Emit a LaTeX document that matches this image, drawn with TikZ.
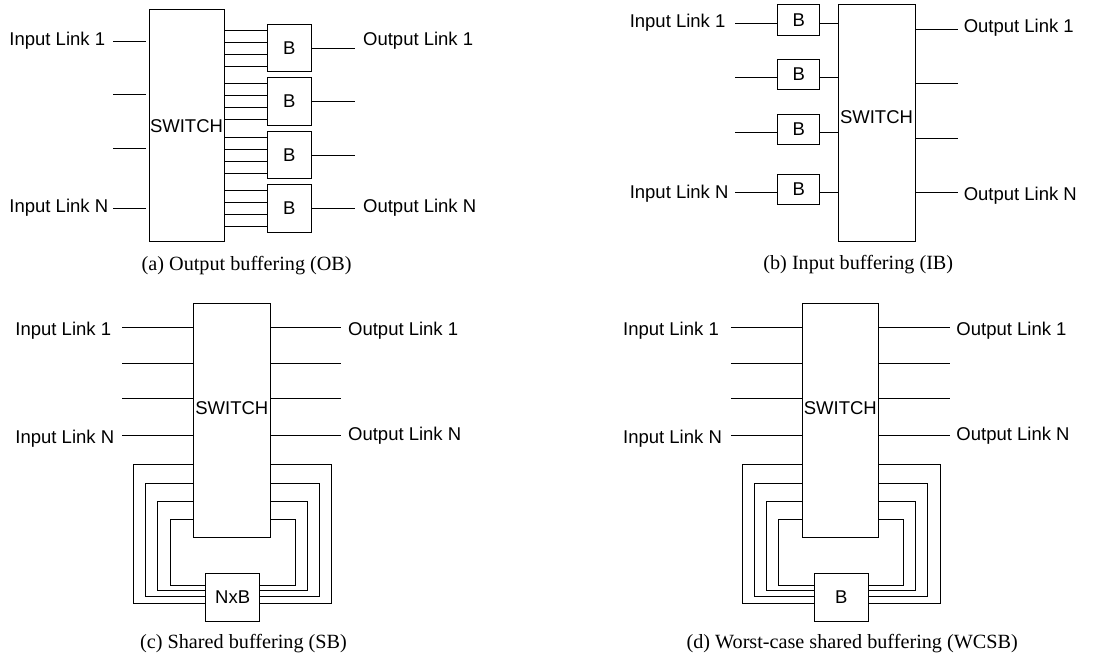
\documentclass[tikz,border=0pt]{standalone}
\usepackage{fontspec}
\setmainfont{Liberation Serif}
\newfontfamily\arialf{Liberation Sans}
\begin{document}
\begin{tikzpicture}[x=1pt,y=-1pt,
  line width=0.9pt,
  lbl/.style={font=\arialf\fontsize{18.5}{22}\selectfont, inner sep=0pt},
  captxt/.style={font=\fontsize{20.2}{24}\selectfont, inner sep=0pt, anchor=base},
  swbox/.style={draw, inner sep=0pt},
  bbox/.style={draw, inner sep=0pt, font=\arialf\fontsize{18.5}{22}\selectfont},
]
\useasboundingbox (0,0) rectangle (1118,657);

% ---------------- (a) Output buffering ----------------
\node[swbox, minimum width=75pt, minimum height=232pt] (swA) at (186.5,125) {};
\node[lbl] (swAt) at (186.5,126) {SWITCH};
\foreach \i/\c/\yi in {1/48/41.3,2/101.5/94.7,3/155/148,4/208.5/208}{
  \node[bbox, minimum width=43.3pt, minimum height=47.5pt] (bA\i) at (289.4,\c) {B};
  \foreach \d in {-18,-6,6,18}{
    \pgfmathsetmacro\yy{\c+\d}
    \draw (swA.east |- 0,\yy) -- (bA\i.west |- 0,\yy);
  }
  \coordinate (oA\i) at (355,\c);
  \draw (bA\i.east) -- (oA\i);
  \coordinate (iA\i) at (113,\yi);
  \draw[shorten >=3pt] (iA\i) -- (swA.west |- iA\i);
}
\node[lbl, anchor=base west] (tAi1) at (9,45.7) {Input Link 1};
\node[lbl, anchor=base west] (tAiN) at (9,212.7) {Input Link N};
\node[lbl, anchor=base west] (tAo1) at (362.7,45.7) {Output Link 1};
\node[lbl, anchor=base west] (tAoN) at (362.7,212.7) {Output Link N};
\node[captxt] (capA) at (246.7,270) {(a) Output buffering (OB)};

% ---------------- (b) Input buffering ----------------
\node[swbox, minimum width=77pt, minimum height=236.3pt] (swB) at (876.5,122.85) {};
\node[lbl] (swBt) at (876.5,116.7) {SWITCH};
\foreach \i/\c/\yl/\yo in {1/19.8/23/29,2/74.5/77.3/83.3,3/129.2/132/138,4/189.5/192.7/192.7}{
  \node[bbox, minimum width=42pt, minimum height=30.3pt] (bB\i) at (798.7,\c) {B};
  \coordinate (iB\i) at (735,\yl);
  \draw (iB\i) -- (bB\i.west |- iB\i);
  \draw (bB\i.east |- iB\i) -- (swB.west |- iB\i);
  \coordinate (oB\i) at (957.7,\yo);
  \draw (swB.east |- oB\i) -- (oB\i);
}
\node[lbl, anchor=base west] (tBi1) at (629.3,27.3) {Input Link 1};
\node[lbl, anchor=base west] (tBiN) at (629.3,198.3) {Input Link N};
\node[lbl, anchor=base west] (tBo1) at (963.3,32.3) {Output Link 1};
\node[lbl, anchor=base west] (tBoN) at (963.3,200) {Output Link N};
\node[captxt] (capB) at (858.3,269.5) {(b) Input buffering (IB)};

% ---------------- (c) and (d) Shared buffering ----------------
\foreach \p/\sx/\bt in {C/0/NxB,D/608.5/B}{
  \begin{scope}[xshift=\sx pt]
    \node[swbox, minimum width=76.3pt, minimum height=233.7pt] (sw\p) at (231.85,420.15) {};
    \node[lbl] (sw\p t) at (231.85,408.3) {SWITCH};
    \node[bbox, minimum width=54pt, minimum height=48pt] (nb\p) at (232.7,597) {\bt};
    \foreach \k/\y in {1/327.7,2/363,3/398.7,4/435.3}{
      \coordinate (i\p\k) at (122.3,\y);
      \coordinate (o\p\k) at (341,\y);
      \draw (i\p\k) -- (sw\p.west |- i\p\k);
      \draw (sw\p.east |- o\p\k) -- (o\p\k);
    }
    \foreach \k/\t/\l/\r/\b in {1/464.7/133.7/331.7/603.3,2/483/145.7/319.3/596.7,3/501/157.7/307.3/590.7,4/519/170/295.3/585}{
      \draw (sw\p.west |- 0,\t) -| (\l,\b) -- (nb\p.west |- 0,\b);
      \draw (nb\p.east |- 0,\b) -| (\r,\t) -- (sw\p.east |- 0,\t);
    }
  \end{scope}
}
\node[lbl, anchor=base west] (tCi1) at (15,335.7) {Input Link 1};
\node[lbl, anchor=base west] (tCiN) at (15,443.3) {Input Link N};
\node[lbl, anchor=base west] (tCo1) at (347.7,335.7) {Output Link 1};
\node[lbl, anchor=base west] (tCoN) at (347.7,440) {Output Link N};
\node[captxt] (capC) at (243.5,648) {(c) Shared buffering (SB)};

\node[lbl, anchor=base west] (tDi1) at (622.7,335.7) {Input Link 1};
\node[lbl, anchor=base west] (tDiN) at (622.7,443.3) {Input Link N};
\node[lbl, anchor=base west] (tDo1) at (956,335.7) {Output Link 1};
\node[lbl, anchor=base west] (tDoN) at (956,440) {Output Link N};
\node[captxt] (capD) at (852.2,648) {(d) Worst-case shared buffering (WCSB)};
\end{tikzpicture}
\end{document}
